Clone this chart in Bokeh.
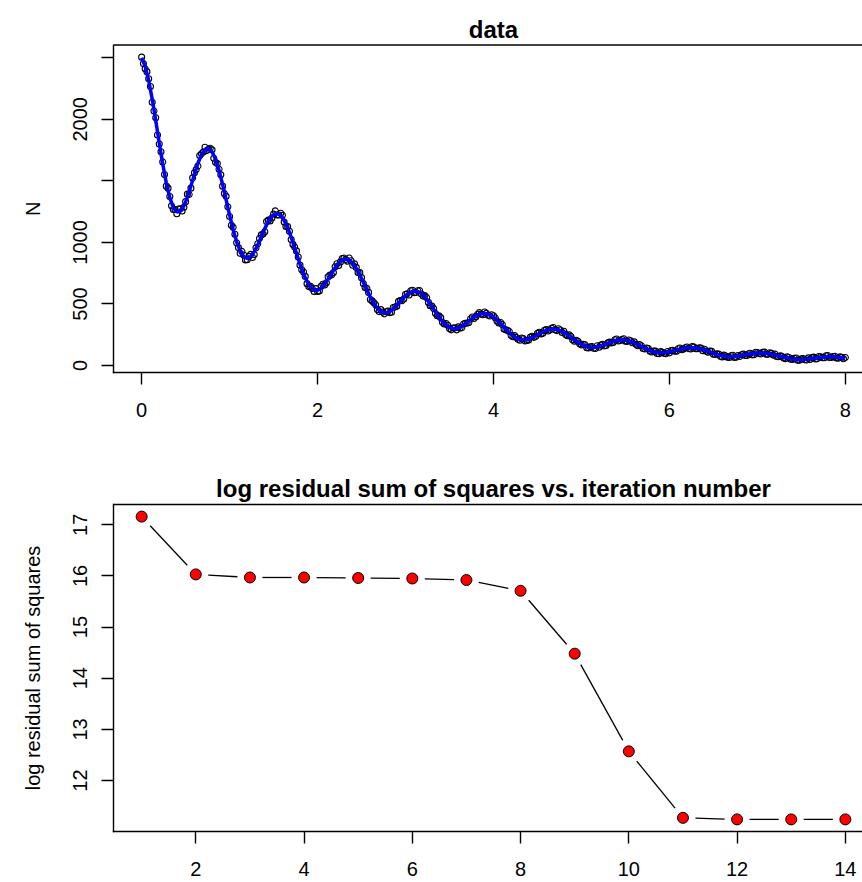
import numpy as np
from bokeh.plotting import figure
from bokeh.layouts import column
from bokeh.models import Range1d, FixedTicker, LinearAxis
from bokeh.core.properties import value
from bokeh.embed import file_html
from bokeh.resources import INLINE

# ---------------- data: upper panel ----------------
obs_step = 0.02          # sampling step of the observations (time units)
n_obs = [
    2505, 2453, 2410, 2387, 2329, 2267, 2139, 2068, 2013, 1873, 1800, 1736, 1654, 1552, 1457, 1441, 1373, 1298, 1267, 1267,
    1233, 1271, 1274, 1255, 1286, 1331, 1392, 1389, 1441, 1524, 1566, 1591, 1620, 1705, 1720, 1734, 1773, 1746, 1757, 1765,
    1752, 1684, 1651, 1641, 1594, 1549, 1457, 1398, 1375, 1289, 1210, 1140, 1124, 1066, 997, 958, 912, 927, 898, 858,
    860, 887, 903, 878, 902, 956, 989, 1032, 1061, 1069, 1087, 1170, 1181, 1175, 1198, 1230, 1256, 1223, 1223, 1237,
    1220, 1166, 1130, 1129, 1091, 1023, 984, 962, 931, 882, 816, 778, 760, 724, 665, 641, 643, 626, 602, 625,
    601, 605, 644, 660, 654, 673, 721, 734, 735, 755, 802, 827, 812, 842, 868, 874, 861, 848, 873, 851,
    815, 826, 797, 755, 755, 714, 666, 633, 628, 594, 536, 525, 509, 494, 455, 438, 454, 434, 420, 437,
    442, 429, 433, 471, 476, 482, 521, 528, 527, 540, 579, 583, 573, 607, 611, 592, 593, 608, 609, 581,
    564, 568, 552, 513, 486, 484, 464, 424, 404, 403, 389, 352, 338, 341, 327, 300, 290, 305, 306, 290,
    314, 304, 307, 338, 343, 345, 347, 380, 394, 383, 397, 417, 430, 418, 413, 435, 424, 409, 402, 412,
    405, 388, 362, 345, 350, 333, 297, 290, 286, 277, 245, 234, 243, 228, 213, 206, 224, 219, 200, 203,
    208, 231, 238, 229, 238, 261, 270, 257, 263, 286, 293, 281, 288, 303, 309, 291, 284, 299, 289, 269,
    279, 253, 242, 249, 236, 209, 197, 205, 197, 176, 167, 173, 169, 145, 143, 152, 155, 140, 138, 161,
    148, 166, 172, 159, 163, 184, 190, 184, 187, 209, 215, 199, 203, 211, 217, 198, 196, 208, 201, 185,
    192, 172, 161, 171, 161, 139, 134, 142, 139, 117, 110, 117, 117, 98, 96, 113, 107, 100, 96, 114,
    103, 122, 123, 116, 116, 136, 142, 128, 134, 145, 151, 138, 134, 154, 151, 136, 137, 144, 143, 121,
    132, 117, 108, 117, 115, 92, 90, 95, 93, 76, 70, 85, 78, 68, 66, 79, 83, 66, 68, 81,
    74, 88, 93, 81, 82, 96, 100, 87, 88, 108, 105, 97, 94, 107, 109, 92, 91, 104, 99, 85,
    93, 74, 72, 79, 76, 62, 56, 70, 65, 52, 50, 59, 61, 42, 43, 54, 57, 47, 45, 62,
    50, 64, 68, 54, 55, 73, 72, 64, 63, 80, 81, 65, 66, 74, 75, 61, 59, 70, 67, 55,
    65,
]

fit_step = 0.04          # sampling step of the fitted curve
n_fit = [
    2500, 2430, 2315, 2164, 1991, 1810, 1636, 1484, 1364, 1283,
    1247, 1253, 1295, 1366, 1459, 1554, 1643, 1712, 1754, 1763,
    1736, 1675, 1584, 1472, 1348, 1222, 1104, 1005, 931, 885,
    871, 885, 924, 980, 1046, 1112, 1170, 1212, 1233, 1230,
    1202, 1152, 1082, 999, 911, 824, 746, 682, 637, 614,
    611, 628, 660, 702, 749, 794, 831, 856, 865, 856,
    830, 790, 737, 677, 615, 556, 504, 464, 438, 427,
    431, 447, 472, 504, 536, 566, 589, 603, 605, 594,
    572, 540, 501, 458, 415, 375, 342, 317, 303, 299,
    305, 319, 338, 361, 383, 403, 417, 423, 421, 411,
    393, 369, 340, 310, 280, 254, 232, 218, 210, 210,
    216, 228, 242, 258, 274, 286, 294, 296, 293, 284,
    269, 251, 230, 209, 189, 172, 158, 150, 146, 148,
    154, 163, 174, 185, 195, 203, 207, 207, 203, 195,
    184, 171, 156, 141, 128, 116, 108, 104, 103, 105,
    110, 117, 125, 132, 139, 143, 145, 144, 141, 134,
    126, 116, 105, 95, 86, 79, 74, 72, 72, 75,
    79, 84, 89, 94, 98, 101, 102, 100, 97, 92,
    85, 78, 71, 65, 58, 54, 51, 50, 51, 53,
    56, 60, 64, 67, 70, 71, 71, 69, 67, 63,
    58,
]

top_title = "data"
top_ylabel = "N"
top_xticks = [0, 2, 4, 6, 8]
top_yticks = [0, 500, 1000, 1500, 2000, 2500]
top_ytick_text = ["0", "500", "1000", "", "2000", ""]

# ---------------- data: lower panel ----------------
iteration = [1, 2, 3, 4, 5, 6, 7, 8, 9, 10, 11, 12, 13, 14]
log_rss = [17.16, 16.03, 15.97, 15.97, 15.96, 15.95, 15.92, 15.71, 14.48, 12.57, 11.27, 11.24, 11.24, 11.24]

bottom_title = "log residual sum of squares vs. iteration number"
bottom_ylabel = "log residual sum of squares"
bottom_xticks = [2, 4, 6, 8, 10, 12, 14]
bottom_yticks = [12, 13, 14, 15, 16, 17]

# ---------------- layout constants (pixels) ----------------
FONT = "Liberation Sans"
W = 862
BOX_L = 113              # left edge of the plot box
BOX_W = 760              # full width of the plot box (runs past the right edge of the picture)
TITLE_GAP = 16.0         # title baseline above the box top
YLAB_X = 32.5            # baseline of the y-axis title


def r_range(lo, hi):
    pad = 0.04 * (hi - lo)
    return lo - pad, hi + pad


def panel(height, box_top, box_bottom, xlo, xhi, ylo, yhi,
          xticks, yticks, ytext, ylabel, title):
    """Figure whose frame is the whole canvas; the box and axes sit inside it."""
    upx = (xhi - xlo) / BOX_W
    upy = (yhi - ylo) / (box_bottom - box_top)
    x_start = xlo - BOX_L * upx
    x_end = xlo + (W - BOX_L) * upx
    y_start = ylo - (height - box_bottom) * upy
    y_end = yhi + box_top * upy
    p = figure(width=W, height=height, output_backend="svg", toolbar_location=None,
               x_range=Range1d(x_start, x_end), y_range=Range1d(y_start, y_end),
               x_axis_type=None, y_axis_type=None,
               min_border_left=0, min_border_right=0, min_border_top=0, min_border_bottom=0)
    p.outline_line_color = None
    p.background_fill_color = "white"
    p.border_fill_color = "white"

    common = dict(axis_line_color="black", axis_line_width=1.4, axis_line_cap="square",
                  major_tick_line_color="black", major_tick_line_width=1.4,
                  major_tick_out=12, major_tick_in=0, minor_tick_line_color=None,
                  major_label_text_font=FONT, major_label_text_font_size="20px",
                  major_label_text_color="black")
    xa = LinearAxis(fixed_location=ylo, bounds=(xlo, x_end),
                    ticker=FixedTicker(ticks=xticks, minor_ticks=[]),
                    major_label_standoff=18, **common)
    ya = LinearAxis(fixed_location=xlo, bounds=(ylo, yhi),
                    ticker=FixedTicker(ticks=yticks, minor_ticks=[]),
                    major_label_overrides={t: s for t, s in zip(yticks, ytext)},
                    major_label_standoff=14, major_label_orientation="vertical", **common)
    p.add_layout(xa, "below")
    p.add_layout(ya, "left")

    # top edge of the box
    p.segment(x0=[xlo], y0=[yhi], x1=[x_end], y1=[yhi], line_color="black", line_width=1.4)

    # y-axis title
    p.text(x=[xlo - (BOX_L - YLAB_X) * upx], y=[(ylo + yhi) / 2], text=[ylabel], angle=np.pi / 2,
           text_font=value(FONT), text_font_size="20px", text_align="center",
           text_baseline="alphabetic", text_color="black")
    # panel title
    p.text(x=[(xlo + xhi) / 2], y=[yhi + TITLE_GAP * upy], text=[title],
           text_font=value(FONT), text_font_style="bold", text_font_size="24px",
           text_align="center", text_baseline="alphabetic", text_color="black")
    return p, upx, upy


# ---------------- upper panel ----------------
t_obs = np.arange(len(n_obs)) * obs_step
t_fit = np.arange(len(n_fit)) * fit_step
tx0, tx1 = r_range(float(t_obs.min()), float(t_obs.max()))
ty0, ty1 = r_range(float(min(n_obs)), float(max(n_obs)))

p1, _, _ = panel(460, 44.5, 372.0, tx0, tx1, ty0, ty1,
                 top_xticks, top_yticks, top_ytick_text, top_ylabel, top_title)
p1.scatter(t_obs, n_obs, size=6, marker="circle", fill_color=None,
           line_color="black", line_width=1.1)
p1.line(t_fit, n_fit, line_color="blue", line_width=3.5)

# ---------------- lower panel ----------------
bx0, bx1 = r_range(min(iteration), max(iteration))
by0, by1 = r_range(min(log_rss), max(log_rss))

p2, upx2, upy2 = panel(422, 44.0, 371.0, bx0, bx1, by0, by1,
                       bottom_xticks, bottom_yticks, [str(v) for v in bottom_yticks],
                       bottom_ylabel, bottom_title)

# connecting segments with a gap around each point (type = "b")
gap = 12.5
xs0, ys0, xs1, ys1 = [], [], [], []
for i in range(len(iteration) - 1):
    xa_, ya_, xb_, yb_ = iteration[i], log_rss[i], iteration[i + 1], log_rss[i + 1]
    L = np.hypot((xb_ - xa_) / upx2, (yb_ - ya_) / upy2)
    if L <= 2 * gap:
        continue
    f = gap / L
    xs0.append(xa_ + (xb_ - xa_) * f)
    ys0.append(ya_ + (yb_ - ya_) * f)
    xs1.append(xb_ - (xb_ - xa_) * f)
    ys1.append(yb_ - (yb_ - ya_) * f)
p2.segment(xs0, ys0, xs1, ys1, line_color="black", line_width=1.3)
p2.scatter(iteration, log_rss, size=11, marker="circle", fill_color="red",
           line_color="black", line_width=1)

layout = column(p1, p2, spacing=0)
open("out.html", "w").write(file_html(layout, INLINE))
